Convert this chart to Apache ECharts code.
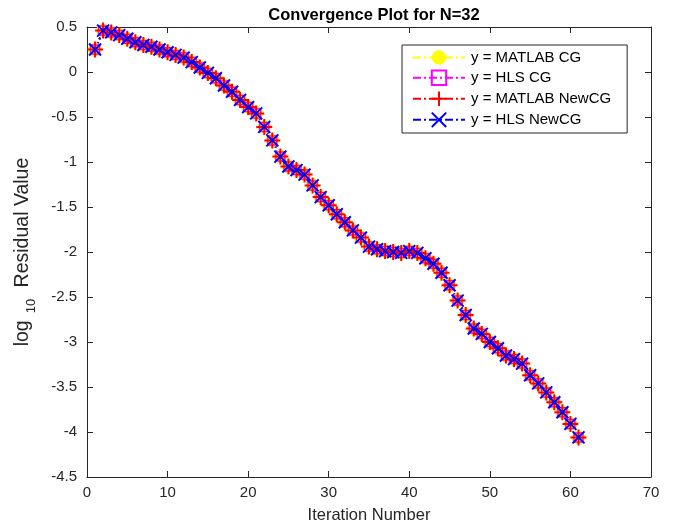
<!DOCTYPE html>
<html>
<head>
<meta charset="utf-8">
<script src="https://cdn.jsdelivr.net/npm/echarts@6/dist/echarts.min.js"></script>
<style>
html,body{margin:0;padding:0;background:#fff;}
#chart{width:681px;height:529px;}
</style>
</head>
<body>
<div id="chart"></div>
<script>
const iterations = [1,2,3,4,5,6,7,8,9,10,11,12,13,14,15,16,17,18,19,20,21,22,23,24,25,26,27,28,29,30,31,32,33,34,35,36,37,38,39,40,41,42,43,44,45,46,47,48,49,50,51,52,53,54,55,56,57,58,59,60,61];
const matlabCG = [0.25,0.46,0.44,0.41,0.37,0.33,0.30,0.28,0.25,0.22,0.19,0.16,0.11,0.05,-0.01,-0.07,-0.15,-0.22,-0.31,-0.39,-0.46,-0.61,-0.76,-0.94,-1.05,-1.09,-1.14,-1.26,-1.39,-1.48,-1.58,-1.67,-1.76,-1.84,-1.94,-1.97,-1.99,-2.00,-2.01,-1.99,-2.01,-2.07,-2.13,-2.23,-2.37,-2.54,-2.70,-2.85,-2.91,-3.00,-3.07,-3.15,-3.19,-3.24,-3.37,-3.46,-3.56,-3.67,-3.78,-3.91,-4.06];
const hlsCG = matlabCG.slice();
const matlabNewCG = matlabCG.slice();
const hlsNewCG = matlabCG.slice();
const seriesNames = ['y = MATLAB CG','y = HLS CG','y = MATLAB NewCG','y = HLS NewCG'];
const xTicks = {min:0, max:70, interval:10};
const yTicks = {min:-4.5, max:0.5, interval:0.5};

const pairs = arr => iterations.map((x,i)=>[x, arr[i]]);
const dashDot = [8,3,2,3];
const font = 'Liberation Sans, Arial, Helvetica, sans-serif';
const axisColor = '#262626';

const chart = echarts.init(document.getElementById('chart'), null, {renderer:'canvas'});
const plusPath = 'path://M5,0L5,10M0,5L10,5';
const crossPath = 'path://M0,0L10,10M10,0L0,10';
const squarePath = 'path://M0,0L10,0L10,10L0,10Z';

function baseX(show){
  return {type:'value', min:xTicks.min, max:xTicks.max, interval:xTicks.interval,
    axisLine:{show:true, onZero:false, lineStyle:{color:axisColor, width:1}},
    axisTick:{show:true, inside:true, length:6, lineStyle:{color:axisColor}},
    axisLabel:{show:show, color:'#262626', fontSize:15, fontFamily:font, margin:8},
    splitLine:{show:false}};
}
function baseY(show){
  return {type:'value', min:yTicks.min, max:yTicks.max, interval:yTicks.interval,
    axisLine:{show:true, onZero:false, lineStyle:{color:axisColor, width:1}},
    axisTick:{show:true, inside:true, length:6, lineStyle:{color:axisColor}},
    axisLabel:{show:show, color:'#262626', fontSize:15, fontFamily:font, margin:10},
    splitLine:{show:false}};
}
const xMain = baseX(true);
xMain.name = 'Iteration Number';
xMain.nameLocation = 'middle';
xMain.nameGap = 30;
xMain.nameTextStyle = {fontSize:16.5, color:'#262626', fontFamily:font};
const xTop = baseX(false); xTop.position='top';
const yMain = baseY(true);
yMain.name = '{a|log}{s|10}{a| Residual Value}';
yMain.nameLocation = 'middle';
yMain.nameGap = 49;
yMain.nameTextStyle = {color:'#262626', fontFamily:font, rich:{
  a:{fontSize:19.5, color:'#262626', fontFamily:font, lineHeight:30, verticalAlign:'middle'},
  s:{fontSize:13, color:'#262626', fontFamily:font, lineHeight:30, verticalAlign:'bottom', padding:[0,6,0,7]}
}};
const yRight = baseY(false); yRight.position='right';

function mkSeries(name, data, color, symbol, size, fill, bw){
  return {name:name, type:'line', data:pairs(data), xAxisIndex:0, yAxisIndex:0,
    symbol:symbol, symbolSize:size, showAllSymbol:true,
    lineStyle:{color:color, width:2, type:dashDot},
    itemStyle:{color:fill, borderColor:color, borderWidth:bw},
    emphasis:{disabled:true}, animation:false};
}

chart.setOption({
  animation:false,
  backgroundColor:'#fff',
  title:{text:'Convergence Plot for N=32', left:369, top:2, textAlign:'center',
    textStyle:{fontSize:16.5, fontWeight:'bold', color:'#000', fontFamily:font}},
  grid:{left:87, right:30, top:27, bottom:52, containLabel:false},
  xAxis:[xMain, xTop],
  yAxis:[yMain, yRight],
  legend:{
    orient:'vertical', left:402, top:45,
    itemWidth:52, itemHeight:18, itemGap:4.6,
    padding:[5,16,5,10],
    backgroundColor:'#fff', borderColor:'#262626', borderWidth:1, borderRadius:0,
    textStyle:{fontSize:15, color:'#000', fontFamily:font, padding:[0,0,0,1]},
    data:seriesNames
  },
  series:[
    mkSeries(seriesNames[0], matlabCG, '#ffff00', 'circle', 14, '#ffff00', 0),
    mkSeries(seriesNames[1], hlsCG, '#ff00ff', squarePath, 9, 'rgba(0,0,0,0)', 1.5),
    mkSeries(seriesNames[2], matlabNewCG, '#ff0000', plusPath, 16, '#ff0000', 2),
    mkSeries(seriesNames[3], hlsNewCG, '#0000ff', crossPath, 12, '#0000ff', 2)
  ]
});
</script>
</body>
</html>
